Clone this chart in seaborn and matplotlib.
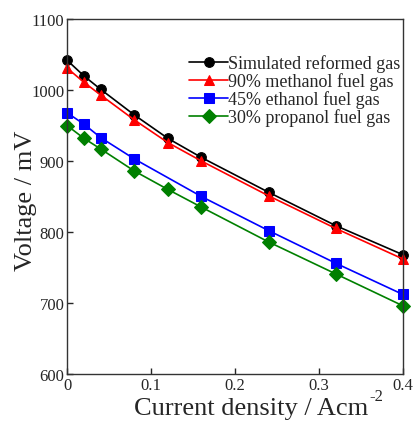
import numpy as np
import pandas as pd
import matplotlib
matplotlib.use("Agg")
import matplotlib.pyplot as plt
import seaborn as sns

# current density points (A cm^-2)
current = [0, 0.02, 0.04, 0.08, 0.12, 0.16, 0.24, 0.32, 0.40]
current_ethanol = [0, 0.02, 0.04, 0.08, 0.16, 0.24, 0.32, 0.40]

simulated = [1042, 1020, 1001, 965, 932, 905, 856, 809, 768]
methanol = [1031, 1011, 993, 958, 926, 900, 851, 805, 762]
ethanol = [968, 952, 933, 903, 850, 802, 756, 712]
propanol = [950, 932, 917, 886, 860, 835, 786, 741, 696]

labels = ["Simulated reformed gas", "90% methanol fuel gas",
          "45% ethanol fuel gas", "30% propanol fuel gas"]

frames = [
    pd.DataFrame({"x": current, "y": simulated, "gas": labels[0]}),
    pd.DataFrame({"x": current, "y": methanol, "gas": labels[1]}),
    pd.DataFrame({"x": current_ethanol, "y": ethanol, "gas": labels[2]}),
    pd.DataFrame({"x": current, "y": propanol, "gas": labels[3]}),
]
df = pd.concat(frames, ignore_index=True)

sns.set_style("ticks")
plt.rcParams["font.family"] = ["Liberation Serif", "DejaVu Serif"]

fig = plt.figure(figsize=(4.14, 4.27), dpi=100)
ax = fig.add_axes([0.162, 0.122, 0.811, 0.831])

palette = {labels[0]: "black", labels[1]: "red", labels[2]: "blue", labels[3]: "green"}
markers = {labels[0]: "o", labels[1]: "^", labels[2]: "s", labels[3]: "D"}

sns.lineplot(data=df, x="x", y="y", hue="gas", style="gas", palette=palette,
             markers=markers, dashes=False, markersize=7, linewidth=1.2,
             ax=ax, clip_on=False, sort=False)
for line in ax.lines:
    line.set_markeredgecolor(line.get_color())

ax.set_xlim(0, 0.4)
ax.set_ylim(600, 1100)
ax.set_xticks([0, 0.1, 0.2, 0.3, 0.4])
ax.set_xticklabels(["0", "0.1", "0.2", "0.3", "0.4"])
ax.set_yticks([600, 700, 800, 900, 1000, 1100])
ax.tick_params(direction="in", labelsize=12, length=4, width=1, pad=2)
for s in ax.spines.values():
    s.set_linewidth(1)
    s.set_color("#333333")

ax.set_xlabel("Current density / Acm", fontsize=19)
ax.set_ylabel("Voltage / mV", fontsize=19)
ax.xaxis.set_label_coords(0.549, -0.065)
ax.yaxis.set_label_coords(-0.09, 0.49)
# superscript of the unit, placed at the label's top right corner
ax.annotate("-2", xy=(1, 1), xycoords=ax.xaxis.label, xytext=(0.5, -5),
            textcoords="offset points", ha="left", va="bottom", fontsize=12)

leg = ax.legend(loc="upper right", frameon=False, fontsize=13, handlelength=2.2,
                handletextpad=0.0, labelspacing=0.0, borderaxespad=0.0,
                bbox_to_anchor=(1.015, 0.921))

fig.savefig("out.png", dpi=100)
